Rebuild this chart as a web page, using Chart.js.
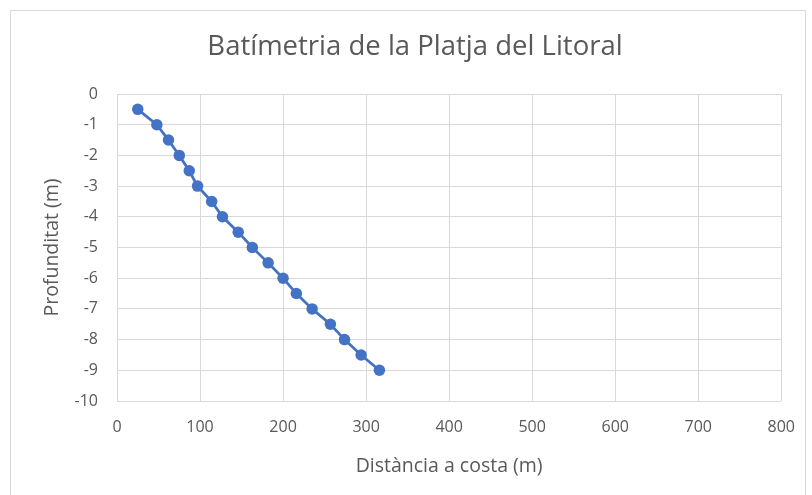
<!DOCTYPE html>
<html>
<head>
<meta charset="utf-8">
<script src="https://cdn.jsdelivr.net/npm/chart.js@4.4.1/dist/chart.umd.min.js"></script>
<style>
  html, body { margin: 0; padding: 0; background: #ffffff; }
  #wrap { position: absolute; left: 0; top: 0; width: 812px; height: 495px; }
</style>
</head>
<body>
<div id="wrap"><canvas id="c" width="812" height="495"></canvas></div>
<script>
// Distance from the shore (m) and depth (m) of each sounding
const distancia = [25, 48, 62, 75, 87, 97, 114, 127, 146, 163, 182, 200, 216, 235, 257, 274, 294, 316];
const profunditat = [-0.5, -1, -1.5, -2, -2.5, -3, -3.5, -4, -4.5, -5, -5.5, -6, -6.5, -7, -7.5, -8, -8.5, -9];

const titol = 'Batímetria de la Platja del Litoral';
const titolX = 'Distància a costa (m)';
const titolY = 'Profunditat (m)';

const punts = distancia.map((x, i) => ({ x: x, y: profunditat[i] }));

const FONT = "'Open Sans', 'Liberation Sans', sans-serif";
const GREY = '#595959';
const GRID = '#d9d9d9';

// Light frame around the whole chart
const frame = {
  id: 'frame',
  beforeDraw(chart) {
    const ctx = chart.ctx;
    ctx.save();
    ctx.strokeStyle = '#d9d9d9';
    ctx.lineWidth = 1;
    ctx.strokeRect(10.5, 10.5, 795, 490);
    ctx.restore();
  }
};

new Chart(document.getElementById('c'), {
  type: 'scatter',
  data: {
    datasets: [{
      data: punts,
      showLine: true,
      borderColor: '#4472C4',
      backgroundColor: '#4472C4',
      borderWidth: 2.75,
      pointRadius: 5.75,
      pointHoverRadius: 5.75,
      pointBorderWidth: 0
    }]
  },
  options: {
    responsive: false,
    animation: false,
    devicePixelRatio: 1,
    layout: { padding: { left: 48, right: 30, top: 10, bottom: 10 } },
    plugins: {
      legend: { display: false },
      tooltip: { enabled: false },
      title: {
        display: true,
        text: titol,
        color: GREY,
        font: { family: FONT, size: 27.5, weight: 'normal' },
        padding: { top: 21, bottom: 30 }
      }
    },
    scales: {
      x: {
        type: 'linear',
        min: 0,
        max: 800,
        ticks: { stepSize: 100, color: GREY, font: { family: FONT, size: 16 }, padding: 17, maxRotation: 0 },
        grid: { color: GRID, drawTicks: false },
        border: { display: false },
        title: { display: true, text: titolX, color: GREY, font: { family: FONT, size: 19.5 }, padding: { top: 0, bottom: 7 } },
        afterFit(scale) { scale.height = 84; }
      },
      y: {
        type: 'linear',
        min: -10,
        max: 0,
        ticks: { stepSize: 1, color: GREY, font: { family: FONT, size: 16 }, padding: 19 },
        grid: { color: GRID, drawTicks: false },
        border: { display: false },
        title: { display: true, text: titolY, color: GREY, font: { family: FONT, size: 19.5 }, padding: { top: -7.7, bottom: 0 } },
        afterFit(scale) { scale.width = 69; }
      }
    }
  },
  plugins: [frame]
});
</script>
</body>
</html>
